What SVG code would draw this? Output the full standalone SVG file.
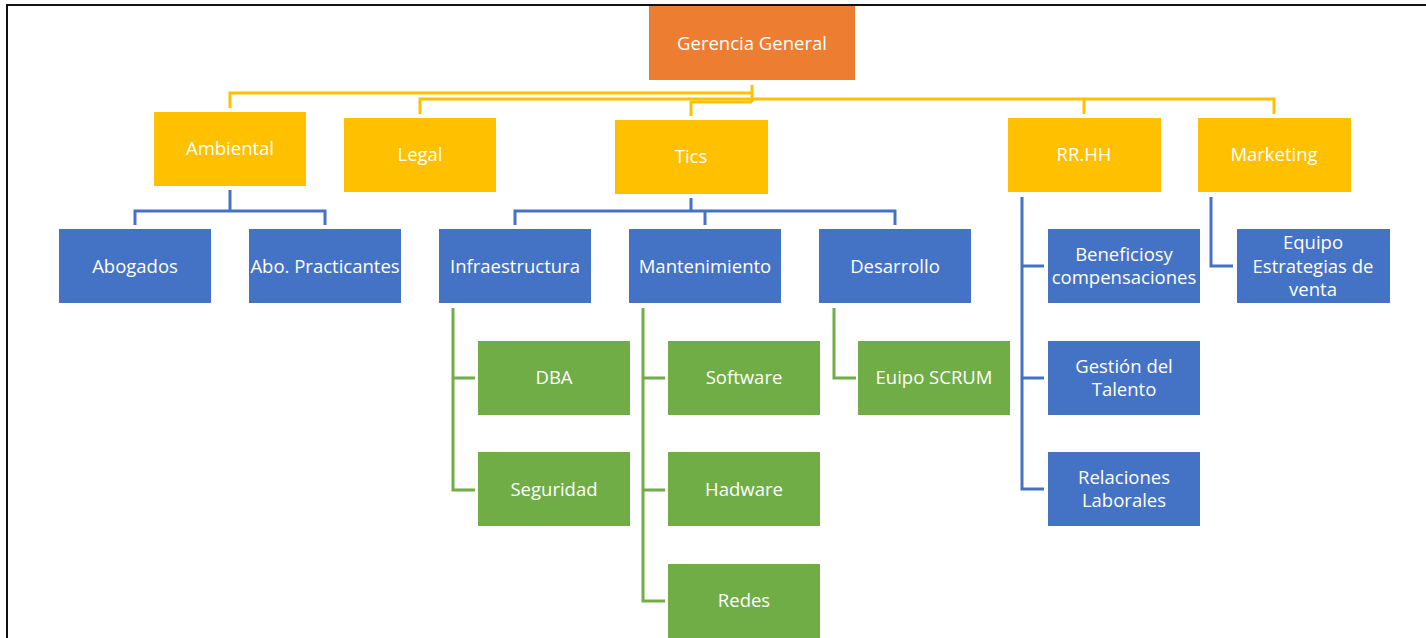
<svg xmlns="http://www.w3.org/2000/svg" width="1426" height="638" viewBox="0 0 1426 638">
  <style>
    .box-orange { fill: #ED7D31; }
    .box-yellow { fill: #FFC000; }
    .box-blue { fill: #4472C4; }
    .box-green { fill: #70AD47; }
    .lbl { font-family: "Open Sans", "Liberation Sans", sans-serif; font-size: 18.5px; fill: #FFFFFF; text-anchor: middle; }
    .wire { fill: none; stroke-width: 3; stroke-linejoin: miter; }
    .wire-yellow { stroke: #FFC000; }
    .wire-blue { stroke: #4472C4; }
    .wire-green { stroke: #70AD47; }
  </style>

  <!-- page frame -->
  <rect x="0" y="0" width="1426" height="638" fill="#FFFFFF"/>
  <line x1="6" y1="5" x2="1426" y2="5" stroke="#111" stroke-width="2"/>
  <line x1="7" y1="4" x2="7" y2="638" stroke="#111" stroke-width="2"/>

  <!-- connectors -->
  <g id="connectors">
    <!-- top level -->
    <path class="wire wire-yellow" d="M752,85 V102"/>
    <path class="wire wire-yellow" d="M752,93 H230 V108"/>
    <path class="wire wire-yellow" d="M420,114 V99 H1274 V114"/>
    <path class="wire wire-yellow" d="M1084,99 V114"/>
    <path class="wire wire-yellow" d="M752,102 H691 V116"/>
    <!-- Ambiental -->
    <path class="wire wire-blue" d="M230,190 V211"/>
    <path class="wire wire-blue" d="M135,225 V211 H325 V225"/>
    <!-- Tics -->
    <path class="wire wire-blue" d="M691,198 V211"/>
    <path class="wire wire-blue" d="M515,225 V211 H895 V225"/>
    <path class="wire wire-blue" d="M705,211 V225"/>
    <!-- Infraestructura -->
    <path class="wire wire-green" d="M453,308 V490 H475"/>
    <path class="wire wire-green" d="M453,378 H475"/>
    <!-- Mantenimiento -->
    <path class="wire wire-green" d="M643,308 V601 H665"/>
    <path class="wire wire-green" d="M643,378 H665"/>
    <path class="wire wire-green" d="M643,490 H665"/>
    <!-- Desarrollo -->
    <path class="wire wire-green" d="M834,308 V378 H856"/>
    <!-- RR.HH -->
    <path class="wire wire-blue" d="M1022,197 V489 H1044"/>
    <path class="wire wire-blue" d="M1022,266 H1044"/>
    <path class="wire wire-blue" d="M1022,378 H1044"/>
    <!-- Marketing -->
    <path class="wire wire-blue" d="M1211,197 V266 H1233"/>
  </g>

  <!-- root -->
  <g id="gerencia-general">
    <rect class="box-orange" x="649" y="6" width="206" height="74"/>
    <text class="lbl" x="752" y="50">Gerencia General</text>
  </g>

  <!-- areas -->
  <g id="ambiental">
    <rect class="box-yellow" x="154" y="112" width="152" height="74"/>
    <text class="lbl" x="230" y="155">Ambiental</text>
  </g>
  <g id="legal">
    <rect class="box-yellow" x="344" y="118" width="152" height="74"/>
    <text class="lbl" x="420" y="161">Legal</text>
  </g>
  <g id="tics">
    <rect class="box-yellow" x="615" y="120" width="153" height="74"/>
    <text class="lbl" x="691" y="163">Tics</text>
  </g>
  <g id="rrhh">
    <rect class="box-yellow" x="1008" y="118" width="153" height="74"/>
    <text class="lbl" x="1084" y="161">RR.HH</text>
  </g>
  <g id="marketing">
    <rect class="box-yellow" x="1198" y="118" width="153" height="74"/>
    <text class="lbl" x="1274" y="161">Marketing</text>
  </g>

  <!-- Ambiental units -->
  <g id="abogados">
    <rect class="box-blue" x="59" y="229" width="152" height="74"/>
    <text class="lbl" x="135" y="273">Abogados</text>
  </g>
  <g id="abo-practicantes">
    <rect class="box-blue" x="249" y="229" width="152" height="74"/>
    <text class="lbl" x="325" y="273">Abo. Practicantes</text>
  </g>

  <!-- Tics units -->
  <g id="infraestructura">
    <rect class="box-blue" x="439" y="229" width="152" height="74"/>
    <text class="lbl" x="515" y="273">Infraestructura</text>
  </g>
  <g id="mantenimiento">
    <rect class="box-blue" x="629" y="229" width="152" height="74"/>
    <text class="lbl" x="705" y="273">Mantenimiento</text>
  </g>
  <g id="desarrollo">
    <rect class="box-blue" x="819" y="229" width="152" height="74"/>
    <text class="lbl" x="895" y="273">Desarrollo</text>
  </g>

  <!-- Infraestructura teams -->
  <g id="dba">
    <rect class="box-green" x="478" y="341" width="152" height="74"/>
    <text class="lbl" x="554" y="384">DBA</text>
  </g>
  <g id="seguridad">
    <rect class="box-green" x="478" y="452" width="152" height="74"/>
    <text class="lbl" x="554" y="496">Seguridad</text>
  </g>

  <!-- Mantenimiento teams -->
  <g id="software">
    <rect class="box-green" x="668" y="341" width="152" height="74"/>
    <text class="lbl" x="744" y="384">Software</text>
  </g>
  <g id="hadware">
    <rect class="box-green" x="668" y="452" width="152" height="74"/>
    <text class="lbl" x="744" y="496">Hadware</text>
  </g>
  <g id="redes">
    <rect class="box-green" x="668" y="564" width="152" height="74"/>
    <text class="lbl" x="744" y="607">Redes</text>
  </g>

  <!-- Desarrollo team -->
  <g id="euipo-scrum">
    <rect class="box-green" x="858" y="341" width="152" height="74"/>
    <text class="lbl" x="934" y="384">Euipo SCRUM</text>
  </g>

  <!-- RR.HH units -->
  <g id="beneficios">
    <rect class="box-blue" x="1048" y="229" width="152" height="74"/>
    <text class="lbl" x="1124" y="261">Beneficiosy</text>
    <text class="lbl" x="1124" y="284">compensaciones</text>
  </g>
  <g id="gestion-talento">
    <rect class="box-blue" x="1048" y="341" width="152" height="74"/>
    <text class="lbl" x="1124" y="373">Gestión del</text>
    <text class="lbl" x="1124" y="396">Talento</text>
  </g>
  <g id="relaciones-laborales">
    <rect class="box-blue" x="1048" y="452" width="152" height="74"/>
    <text class="lbl" x="1124" y="484">Relaciones</text>
    <text class="lbl" x="1124" y="507">Laborales</text>
  </g>

  <!-- Marketing unit -->
  <g id="equipo-estrategias">
    <rect class="box-blue" x="1237" y="229" width="153" height="74"/>
    <text class="lbl" x="1313" y="249">Equipo</text>
    <text class="lbl" x="1313" y="273">Estrategias de</text>
    <text class="lbl" x="1313" y="296">venta</text>
  </g>
</svg>
